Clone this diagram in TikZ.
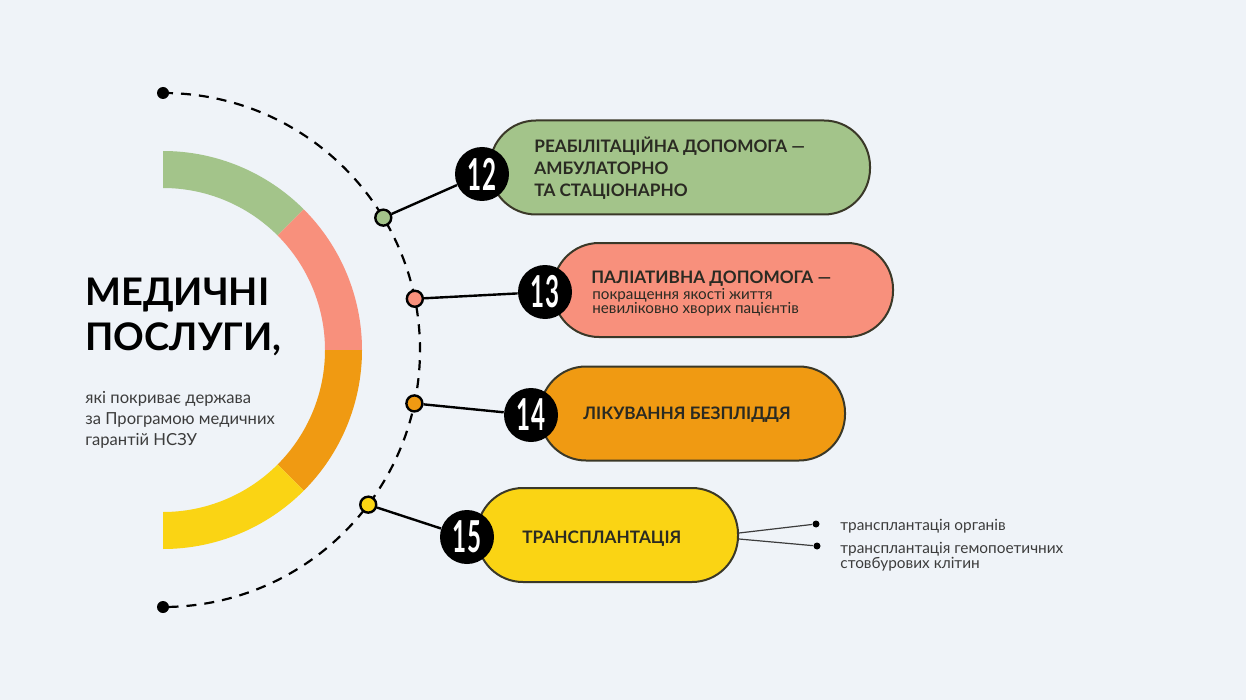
\documentclass[tikz,border=0pt]{standalone}
\usepackage{fontspec}
\setmainfont{Lato}
\usepackage{tikz}
\usetikzlibrary{positioning}

\definecolor{bg}{HTML}{EFF3F8}
\definecolor{cgreen}{HTML}{A3C48A}
\definecolor{csalmon}{HTML}{F8907C}
\definecolor{corange}{HTML}{F09A12}
\definecolor{cyellow}{HTML}{FAD414}
\definecolor{edge}{HTML}{3A3828}
\definecolor{ink}{HTML}{2A2A22}
\definecolor{grey}{HTML}{3C3C3C}

\newcommand{\numtxt}[1]{\scalebox{0.55}[1]{\fontsize{22}{22}\selectfont\bfseries #1}}
\newcommand{\tightskip}{\setlength{\lineskiplimit}{-20pt}}

\begin{document}
\begin{tikzpicture}[
    x=0.5pt, y=0.5pt,
    pill/.style={draw=edge, line width=1pt, rounded corners=23pt, minimum height=47pt, inner sep=0pt},
    numc/.style={circle, fill=black, minimum size=27pt, inner sep=0pt, text=white},
    pin/.style={circle, draw=black, line width=1.2pt, minimum size=8pt, inner sep=0pt},
    enddot/.style={circle, fill=black, minimum size=6pt, inner sep=0pt},
    link/.style={line width=1.2pt},
    lbl/.style={anchor=base west, align=left, inner sep=0pt, text=ink}
  ]

  % sfondo
  \fill[bg] (0,0) rectangle (1246,-700);
  \useasboundingbox (0,0) rectangle (1246,-700);

  % arco colorato
  \coordinate (c) at (163,-350);
  \fill[cgreen] (c) ++(90:199) arc[start angle=90, end angle=45, radius=199]
    -- ++(45:-37) arc[start angle=45, end angle=90, radius=162] -- cycle;
  \fill[csalmon] (c) ++(45:199) arc[start angle=45, end angle=0, radius=199]
    -- ++(0:-37) arc[start angle=0, end angle=45, radius=162] -- cycle;
  \fill[corange] (c) ++(0:199) arc[start angle=0, end angle=-45, radius=199]
    -- ++(-45:-37) arc[start angle=-45, end angle=0, radius=162] -- cycle;
  \fill[cyellow] (c) ++(-45:199) arc[start angle=-45, end angle=-90, radius=199]
    -- ++(-90:-37) arc[start angle=-90, end angle=-45, radius=162] -- cycle;

  % arco tratteggiato
  \node[enddot] (top) at (163,-93) {};
  \node[enddot] (bot) at (163,-607) {};
  \draw[line width=1.1pt, dash pattern=on 5pt off 4pt] (top) arc[start angle=90, end angle=-90, radius=257];

  % titolo
  \node[lbl, text=black, font=\fontsize{19}{22.5}\selectfont\bfseries] (title) at (85,-350)
    {МЕДИЧНІ\\ПОСЛУГИ,};
  \node[lbl, text=grey, font=\fontsize{8.3}{10.5}\selectfont] (sub) at (85,-445)
    {які покриває держава\\за Програмою медичних\\гарантій НСЗУ};

  % riquadri
  \node[pill, fill=cgreen, minimum width=190pt] (b12) at (680,-167.5) {};
  \node[pill, fill=csalmon, minimum width=170pt] (b13) at (723,-290) {};
  \node[pill, fill=corange, minimum width=152.5pt] (b14) at (692.5,-413.5) {};
  \node[pill, fill=cyellow, minimum width=130.5pt] (b15) at (607.5,-535) {};

  \node[lbl, font=\fontsize{8.6}{11}\selectfont\bfseries] (t12) at (534,-197)
    {РЕАБІЛІТАЦІЙНА ДОПОМОГА —\\АМБУЛАТОРНО\\ТА СТАЦІОНАРНО};
  \node[lbl, font=\fontsize{8.6}{11}\selectfont\bfseries] (t13) at (591,-283)
    {ПАЛІАТИВНА ДОПОМОГА —};
  \node[lbl, font=\fontsize{7.6}{6.8}\selectfont\tightskip] (s13) at (592,-313)
    {покращення якості життя\\невиліковно хворих пацієнтів};
  \node[lbl, font=\fontsize{8.6}{11}\selectfont\bfseries] (t14) at (583,-419)
    {ЛІКУВАННЯ БЕЗПЛІДДЯ};
  \node[lbl, font=\fontsize{8.6}{11}\selectfont\bfseries] (t15) at (522,-543)
    {ТРАНСПЛАНТАЦІЯ};

  % numeri
  \node[numc] (n12) at (482,-174) {\numtxt{12}};
  \node[numc] (n13) at (545,-292) {\numtxt{13}};
  \node[numc] (n14) at (531,-415) {\numtxt{14}};
  \node[numc] (n15) at (467,-537) {\numtxt{15}};

  % punti sull'arco
  \path (c) ++(31:257) node[pin, fill=cgreen] (p12) {};
  \path (c) ++(11.5:257) node[pin, fill=csalmon] (p13) {};
  \path (c) ++(-12:257) node[pin, fill=corange] (p14) {};
  \path (c) ++(-37:257) node[pin, fill=cyellow] (p15) {};

  % collegamenti
  \draw[link] (p12) -- (n12);
  \draw[link] (p13) -- (n13);
  \draw[link] (p14) -- (n14);
  \draw[link] (p15) -- (n15);

  % trapianti
  \node[enddot, minimum size=3.5pt] (d1) at (816,-524) {};
  \node[enddot, minimum size=3.5pt] (d2) at (817,-546) {};
  \draw[grey, line width=0.6pt] ([yshift=1pt]b15.east) -- (d1);
  \draw[grey, line width=0.6pt] ([yshift=-2pt]b15.east) -- (d2);
  \node[lbl, text=grey, font=\fontsize{7.7}{7.5}\selectfont] (o1) at (840,-530) {трансплантація органів};
  \node[lbl, text=grey, font=\fontsize{7.7}{7.5}\selectfont] (o2) at (840,-568)
    {трансплантація гемопоетичних\\стовбурових клітин};

\end{tikzpicture}
\end{document}
